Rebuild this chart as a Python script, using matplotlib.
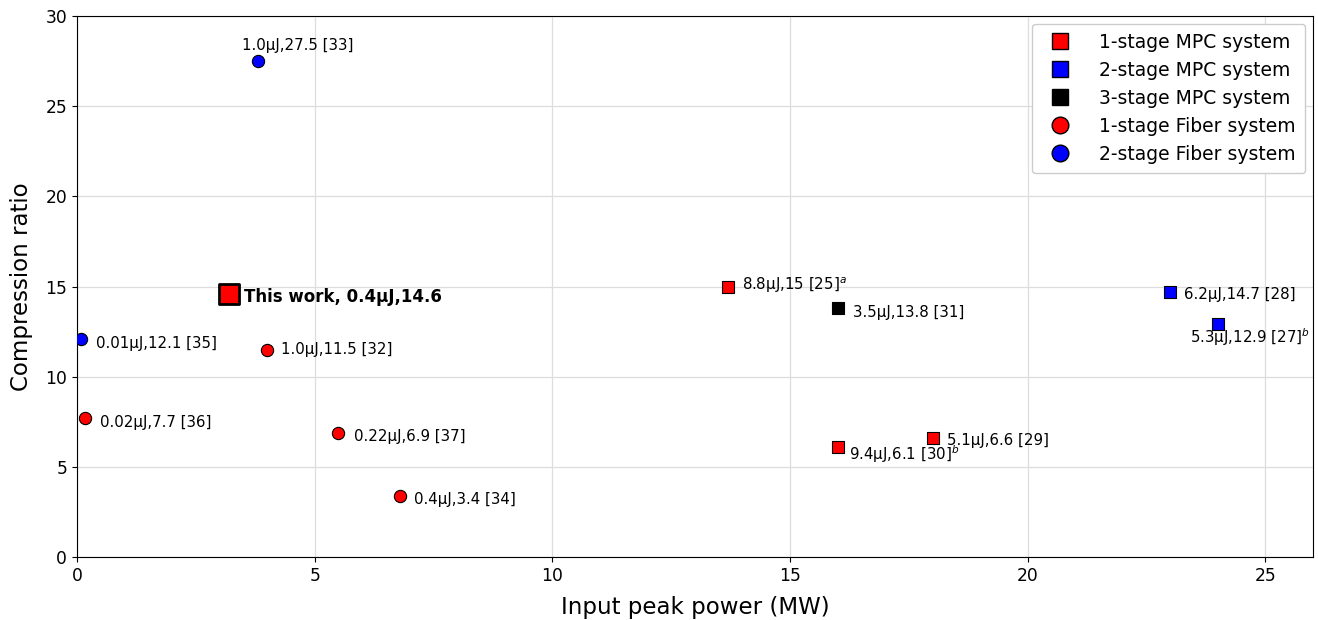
import matplotlib
matplotlib.use("Agg")
import matplotlib.pyplot as plt
from matplotlib.lines import Line2D

# Published results: input peak power (MW), compression ratio, label
mpc1_x = [13.7, 16.0, 18.0]
mpc1_y = [15.0, 6.1, 6.6]
mpc1_labels = [r"8.8μJ,15 [25]$^a$", r"9.4μJ,6.1 [30]$^b$", "5.1μJ,6.6 [29]"]

mpc2_x = [23.0, 24.0]
mpc2_y = [14.7, 12.9]
mpc2_labels = ["6.2μJ,14.7 [28]", r"5.3μJ,12.9 [27]$^b$"]

mpc3_x = [16.0]
mpc3_y = [13.8]
mpc3_labels = ["3.5μJ,13.8 [31]"]

fib1_x = [4.0, 0.17, 5.5, 6.8]
fib1_y = [11.5, 7.7, 6.9, 3.4]
fib1_labels = ["1.0μJ,11.5 [32]", "0.02μJ,7.7 [36]", "0.22μJ,6.9 [37]", "0.4μJ,3.4 [34]"]

fib2_x = [3.8, 0.08]
fib2_y = [27.5, 12.1]
fib2_labels = ["1.0μJ,27.5 [33]", "0.01μJ,12.1 [35]"]

this_x = 3.2
this_y = 14.6
this_label = "This work, 0.4μJ,14.6"

legend_labels = ["1-stage MPC system", "2-stage MPC system", "3-stage MPC system",
                 "1-stage Fiber system", "2-stage Fiber system"]

fig = plt.figure(figsize=(13.18, 6.2), dpi=100)
ax = fig.add_axes([0.0584, 0.1016, 0.9378, 0.8724])

ms = 78
ax.scatter(mpc1_x, mpc1_y, s=ms, marker="s", c="red", edgecolors="black", linewidths=0.8, zorder=3)
ax.scatter(mpc2_x, mpc2_y, s=ms, marker="s", c="blue", edgecolors="black", linewidths=0.8, zorder=3)
ax.scatter(mpc3_x, mpc3_y, s=ms, marker="s", c="black", edgecolors="black", linewidths=0.8, zorder=3)
ax.scatter(fib1_x, fib1_y, s=ms, marker="o", c="red", edgecolors="black", linewidths=0.8, zorder=3)
ax.scatter(fib2_x, fib2_y, s=ms, marker="o", c="blue", edgecolors="black", linewidths=0.8, zorder=3)
ax.scatter([this_x], [this_y], s=190, marker="s", c="red", edgecolors="black", linewidths=2, zorder=4)


def label(x, y, text, dx, dy, ha="left", fontsize=10.8, **kw):
    ax.annotate(text, (x, y), xytext=(dx, dy), textcoords="offset points",
                ha=ha, va="center", fontsize=fontsize, **kw)

# label offsets (points)
label(mpc1_x[0], mpc1_y[0], mpc1_labels[0], 10, 1)
label(mpc1_x[1], mpc1_y[1], mpc1_labels[1], 8, -5)
label(mpc1_x[2], mpc1_y[2], mpc1_labels[2], 10, -2)
label(mpc2_x[0], mpc2_y[0], mpc2_labels[0], 10, -2)
label(mpc2_x[1], mpc2_y[1], mpc2_labels[1], -20, -9)
label(mpc3_x[0], mpc3_y[0], mpc3_labels[0], 11, -3)
label(fib1_x[0], fib1_y[0], fib1_labels[0], 10, 0)
label(fib1_x[1], fib1_y[1], fib1_labels[1], 11, -3)
label(fib1_x[2], fib1_y[2], fib1_labels[2], 11, -3)
label(fib1_x[3], fib1_y[3], fib1_labels[3], 10, -3)
label(fib2_x[0], fib2_y[0], fib2_labels[0], -11, 11)
label(fib2_x[1], fib2_y[1], fib2_labels[1], 11, -3)
label(this_x, this_y, this_label, 11, -2, fontsize=12, fontweight="bold")

ax.set_xlim(0, 26)
ax.set_ylim(0, 30)
ax.set_xticks([0, 5, 10, 15, 20, 25])
ax.set_yticks([0, 5, 10, 15, 20, 25, 30])
ax.tick_params(labelsize=12.3)
ax.set_xlabel("Input peak power (MW)", fontsize=16.5, labelpad=8)
ax.set_ylabel("Compression ratio", fontsize=16.5, labelpad=9)
ax.grid(True, color="#dddddd", linewidth=0.9)
ax.set_axisbelow(True)

handles = [
    Line2D([], [], marker="s", color="none", markerfacecolor="red", markeredgecolor="black", markersize=12),
    Line2D([], [], marker="s", color="none", markerfacecolor="blue", markeredgecolor="black", markersize=12),
    Line2D([], [], marker="s", color="none", markerfacecolor="black", markeredgecolor="black", markersize=12),
    Line2D([], [], marker="o", color="none", markerfacecolor="red", markeredgecolor="black", markersize=12),
    Line2D([], [], marker="o", color="none", markerfacecolor="blue", markeredgecolor="black", markersize=12),
]
ax.legend(handles, legend_labels, loc="upper right", fontsize=13.5, framealpha=1,
          labelspacing=0.48, handletextpad=1.1, borderaxespad=0.4, borderpad=0.5)

fig.savefig("out.png", dpi=100)
